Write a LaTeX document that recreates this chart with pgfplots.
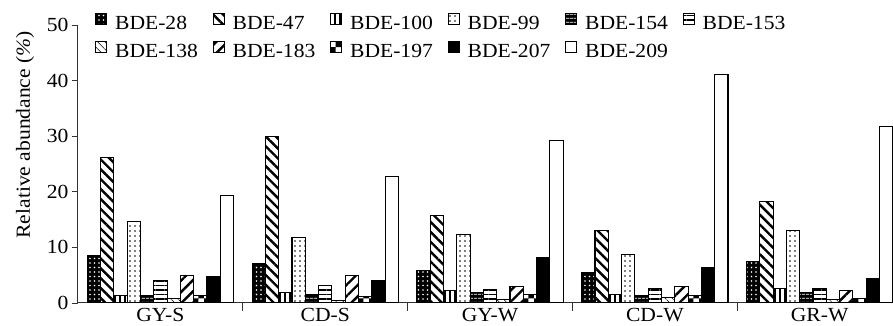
\documentclass[border=0pt]{standalone}
\usepackage{fontspec}
\setmainfont{Liberation Serif}[FakeStretch=1.08]
\usepackage{pgfplots}
\pgfplotsset{compat=1.18}
\usetikzlibrary{patterns,patterns.meta}
\begin{document}
\begin{tikzpicture}[font=\fontsize{20pt}{24pt}\selectfont]
\begin{axis}[
  scale only axis, width=815pt, height=278pt,
  xmin=-0.5, xmax=4.445, ymin=0, ymax=50,
  clip=true,
  axis x line*=bottom, axis y line*=left,
  axis line style={line width=1pt, black!80},
  ybar=0pt, bar width=13.3pt,
  xtick={0,1,2,3,4},
  xticklabels={GY-S,CD-S,GY-W,CD-W,GR-W},
  minor xtick={0.5,1.5,2.5,3.5},
  major x tick style={draw=none},
  minor tick length=8pt,
  minor x tick style={line width=0.8pt, black!80},
  ytick={0,10,20,30,40,50},
  major tick length=6pt,
  ytick style={xshift=-6pt, line width=0.8pt, black!80},
  yticklabel style={xshift=-6pt},
  xticklabel style={yshift=4pt},
  /pgf/number format/assume math mode=true,
  ylabel={Relative abundance (\textit{\%})},
  every axis y label/.style={at={(axis description cs:-0.065,0.605)}, rotate=90, anchor=center},
  every axis plot/.append style={draw=black, line width=1.1pt},
  legend columns=6,
  legend cell align=left,
  legend image code/.code={\draw[#1, line width=0.9pt] (0pt,-1pt) rectangle (11pt,10pt);},
  legend style={at={(axis description cs:0,1)}, anchor=north west, xshift=17pt, yshift=12pt,
    draw=none, fill=none, inner sep=0pt, row sep=10pt,
    /tikz/every odd column/.style={column sep=8pt},
    nodes={text width=97.6pt, align=left, inner xsep=0pt, inner ysep=0pt}},
]
\addplot[fill=black, postaction={pattern={Dots[distance=4.5pt, radius=0.8pt]}, pattern color=white}]
  coordinates {(0,8.5) (1,7.1) (2,5.8) (3,5.4) (4,7.5)};
\addplot[fill=white, postaction={pattern={Lines[angle=-45, distance=7pt, line width=2.4pt]}, pattern color=black}]
  coordinates {(0,26.1) (1,29.9) (2,15.8) (3,13.1) (4,18.3)};
\addplot[fill=white, postaction={pattern={Lines[angle=90, distance=5pt, line width=1.6pt]}, pattern color=black}]
  coordinates {(0,1.4) (1,1.9) (2,2.2) (3,1.6) (4,2.6)};
\addplot[fill=white, postaction={pattern={Dots[distance=5pt, radius=0.85pt]}, pattern color=black}]
  coordinates {(0,14.7) (1,11.7) (2,12.3) (3,8.8) (4,13.0)};
\addplot[fill=black, postaction={pattern={Lines[angle=0, distance=4pt, line width=0.9pt]}, pattern color=white}]
  coordinates {(0,1.4) (1,1.6) (2,1.9) (3,1.4) (4,1.9)};
\addplot[fill=white, postaction={pattern={Lines[angle=0, distance=4.5pt, line width=1.6pt]}, pattern color=black}]
  coordinates {(0,4.0) (1,3.2) (2,2.5) (3,2.6) (4,2.6)};
\addplot[fill=white, postaction={pattern={Lines[angle=-45, distance=5pt, line width=0.5pt]}, pattern color=black}]
  coordinates {(0,0.8) (1,0.5) (2,0.7) (3,1.0) (4,0.7)};
\addplot[fill=white, postaction={pattern={Lines[angle=45, distance=8pt, line width=2.4pt]}, pattern color=black}]
  coordinates {(0,5.0) (1,5.0) (2,2.9) (3,2.9) (4,2.2)};
\addplot[fill=white, postaction={pattern=checkerboard, pattern color=black}]
  coordinates {(0,1.4) (1,1.1) (2,1.6) (3,1.4) (4,0.8)};
\addplot[fill=black]
  coordinates {(0,4.7) (1,4.0) (2,8.2) (3,6.4) (4,4.4)};
\addplot[fill=white]
  coordinates {(0,19.4) (1,22.8) (2,29.2) (3,41.1) (4,31.7)};
\legend{BDE-28,BDE-47,BDE-100,BDE-99,BDE-154,BDE-153,BDE-138,BDE-183,BDE-197,BDE-207,BDE-209}
\coordinate (SW) at (rel axis cs:0,0);
\end{axis}
\pgfresetboundingbox
\path[use as bounding box] ([xshift=-78pt,yshift=-23pt]SW) rectangle ([xshift=815pt,yshift=303pt]SW);
\end{tikzpicture}
\end{document}
